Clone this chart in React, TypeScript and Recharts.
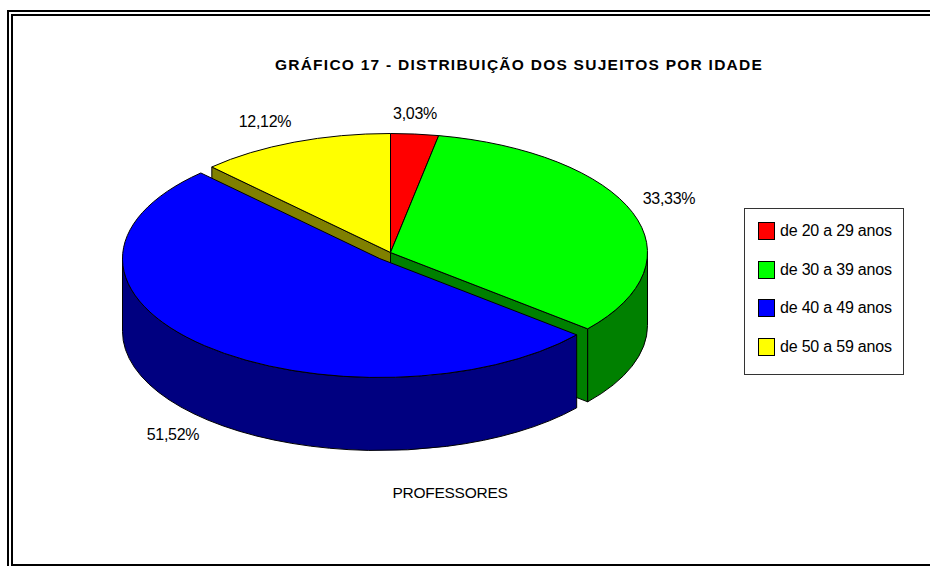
import { Legend, Pie, PieChart } from "recharts";

const categories = ["de 20 a 29 anos", "de 30 a 39 anos", "de 40 a 49 anos", "de 50 a 59 anos"];
const shares = [3.03, 33.33, 51.52, 12.12];
const topColors = ["#ff0000", "#00ff00", "#0000ff", "#ffff00"];
const wallColors = ["#800000", "#008000", "#000080", "#808000"];
const labelAnchors = [
  [415, 119],
  [669, 204],
  [173, 440],
  [265, 127],
];

const data = categories.map((name, i) => ({
  name,
  value: shares[i],
  fill: topColors[i],
  wall: wallColors[i],
}));

const FONT = '"Liberation Sans", Arial, sans-serif';
const CX = 390.5;
const CY = 252.5;
const RX = 257;
const RY = 119;
const DEPTH = 73;
const EXPLODED = "de 40 a 49 anos";
const SHIFT = { x: -11, y: 6 };

function rad(a: number) {
  return (a * Math.PI) / 180;
}

// small correction for the perspective of the original 3D view
function warp(a: number) {
  return a + 1.1 * Math.sin(rad((90 - a) / 2));
}

// flattened slice with its side walls, angles come from the Pie
function Slice3D(props: any) {
  const exploded = props.payload.name === EXPLODED;
  const ox = props.cx + (exploded ? SHIFT.x : 0);
  const oy = props.cy + (exploded ? SHIFT.y : 0);
  const rx = props.outerRadius;
  const s = warp(props.startAngle);
  const e = warp(props.endAngle);
  const pt = (a: number) => [ox + rx * Math.cos(rad(a)), oy - RY * Math.sin(rad(a))];
  const [sx, sy] = pt(s);
  const [ex, ey] = pt(e);
  const large = s - e > 180 ? 1 : 0;
  const line = { stroke: "#000", strokeWidth: 1, strokeLinejoin: "round" as const };

  const walls = [];
  if (Math.cos(rad(s)) < -0.001) {
    walls.push(`M${ox},${oy}L${sx},${sy}L${sx},${sy + DEPTH}L${ox},${oy + DEPTH}Z`);
  }
  if (Math.cos(rad(e)) > 0.001) {
    walls.push(`M${ox},${oy}L${ex},${ey}L${ex},${ey + DEPTH}L${ox},${oy + DEPTH}Z`);
  }
  const hi = Math.min(s, 0);
  const lo = Math.max(e, -180);
  if (hi > lo) {
    const [hx, hy] = pt(hi);
    const [lx, ly] = pt(lo);
    walls.push(
      `M${hx},${hy}A${rx},${RY} 0 0 1 ${lx},${ly}L${lx},${ly + DEPTH}A${rx},${RY} 0 0 0 ${hx},${hy + DEPTH}Z`
    );
  }

  return (
    <g>
      {walls.map((d, i) => (
        <path key={i} d={d} fill={props.payload.wall} {...line} />
      ))}
      <path
        d={`M${ox},${oy}L${sx},${sy}A${rx},${RY} 0 ${large} 1 ${ex},${ey}Z`}
        fill={props.fill}
        {...line}
      />
    </g>
  );
}

// the exploded slice has to go on top of its neighbours, so it gets its own Pie
const backShape = (props: any) => (props.payload.name === EXPLODED ? <g /> : <Slice3D {...props} />);
const frontShape = (props: any) => (props.payload.name === EXPLODED ? <Slice3D {...props} /> : <g />);

function percentLabel(props: any) {
  const [x, y] = labelAnchors[props.index];
  return (
    <text
      key={props.index}
      x={x}
      y={y}
      textAnchor="middle"
      fontFamily={FONT}
      fontSize={16}
      letterSpacing={-0.3}
      fill="#000"
    >
      {shares[props.index].toFixed(2).replace(".", ",")}%
    </text>
  );
}

function LegendBox({ payload }: any) {
  // both Pies report their sectors, keep one row per category
  const rows = (payload || []).filter(
    (item: any, i: number, all: any[]) => all.findIndex((o) => o.value === item.value) === i
  );
  return (
    <div
      style={{
        boxSizing: "border-box",
        width: 160,
        height: 167,
        border: "1px solid #333",
        background: "#fff",
        paddingTop: 3,
      }}
    >
      {rows.map((item: any) => (
        <div key={item.value} style={{ display: "flex", alignItems: "center", height: 38.6, paddingLeft: 13 }}>
          <span
            style={{
              boxSizing: "border-box",
              width: 17,
              height: 18,
              background: item.color,
              border: "1px solid #000",
              marginRight: 5,
            }}
          />
          <span style={{ fontFamily: FONT, fontSize: 16, letterSpacing: -0.2, whiteSpace: "nowrap", color: "#000" }}>
            {item.value}
          </span>
        </div>
      ))}
    </div>
  );
}

export default function App() {
  return (
    <div style={{ position: "absolute", left: 0, top: 0, width: 930, height: 566, overflow: "hidden", background: "#fff" }}>
      <div style={{ position: "absolute", left: 7, top: 10, width: 1000, height: 600, border: "2px solid #000" }} />
      <div style={{ position: "absolute", left: 11, top: 14, width: 1000, height: 548, border: "2px solid #000" }} />
      <div style={{ position: "absolute", left: 0, top: 0 }}>
        <PieChart width={930} height={566} margin={{ top: 0, right: 0, bottom: 0, left: 0 }}>
          <text
            x={519}
            y={70}
            textAnchor="middle"
            fontFamily={FONT}
            fontSize={15.5}
            fontWeight="bold"
            letterSpacing={1.26}
            fill="#000"
          >
            GRÁFICO 17 - DISTRIBUIÇÃO DOS SUJEITOS POR IDADE
          </text>
          <Pie
            data={data}
            dataKey="value"
            nameKey="name"
            cx={CX}
            cy={CY}
            outerRadius={RX}
            startAngle={90}
            endAngle={-270}
            shape={backShape}
            label={percentLabel}
            labelLine={false}
            isAnimationActive={false}
          />
          <Pie
            data={data}
            dataKey="value"
            nameKey="name"
            cx={CX}
            cy={CY}
            outerRadius={RX}
            startAngle={90}
            endAngle={-270}
            shape={frontShape}
            legendType="none"
            isAnimationActive={false}
          />
          <Legend
            layout="vertical"
            content={<LegendBox />}
            wrapperStyle={{ position: "absolute", left: 744, top: 208, width: 160, height: 167 }}
          />
          <text x={450} y={498} textAnchor="middle" fontFamily={FONT} fontSize={15.5} letterSpacing={-0.25} fill="#000">
            PROFESSORES
          </text>
        </PieChart>
      </div>
    </div>
  );
}
